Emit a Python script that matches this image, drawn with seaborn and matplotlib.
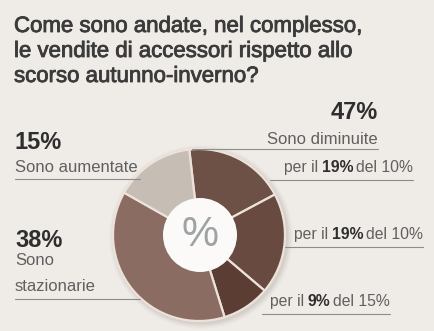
import matplotlib
matplotlib.use("Agg")
import matplotlib.pyplot as plt
import matplotlib.patheffects as pe
from matplotlib.patches import Circle
import seaborn as sns

# --- data -------------------------------------------------------------
title_lines = [
    "Come sono andate, nel complesso,",
    "le vendite di accessori rispetto allo",
    "scorso autunno-inverno?",
]
slice_labels = ["diminuite 19% del 10%", "diminuite 19% del 10%",
                "diminuite 9% del 15%", "stazionarie", "aumentate"]
slice_values = [19, 19, 9, 38, 15]
slice_colors = ["#6d5046", "#684a40", "#5b3d34", "#8b6c62", "#c6bdb5"]

total_down = 47
total_flat = 38
total_up = 15
detail_pct = [19, 19, 9]
detail_of = [10, 10, 15]

# --- style ------------------------------------------------------------
sns.set_theme(style="white")
plt.rcParams["font.family"] = ["Liberation Sans", "DejaVu Sans"]

BG = "#efebe6"
W, H = 434, 331
fig = plt.figure(figsize=(W / 100, H / 100), dpi=100, facecolor=BG)
ax = fig.add_axes([0, 0, 1, 1])
ax.set_facecolor(BG)

cx, cy, r = 199, H - 235, 86

# soft shadow around the ring
for k, a in zip(range(6, 0, -1), [0.015, 0.02, 0.025, 0.03, 0.035, 0.04]):
    ax.add_patch(Circle((cx + 2, cy - 2), r + k, facecolor="#5a4a40",
                        edgecolor="none", alpha=a, zorder=0))

ax.pie(slice_values, colors=slice_colors, startangle=96.5, counterclock=False,
       center=(cx, cy), radius=r,
       wedgeprops=dict(edgecolor="#ece2da", linewidth=1.6))
ax.add_patch(Circle((cx + 1, cy), 37, facecolor="#fbfaf8", edgecolor="none", zorder=5))
ax.text(cx + 1, cy, "%", ha="center", va="center", fontsize=30,
        color="#9ea3a6", zorder=6)

ax.set_xlim(0, W)
ax.set_ylim(0, H)
ax.set_aspect("equal")
ax.axis("off")

TITLE_C = "#3b3b3b"
TXT_C = "#606060"
BOLD_C = "#2e2e2e"
LINE_C = "#8c8c8c"

heavy = [pe.withStroke(linewidth=0.6, foreground=TITLE_C)]
for i, line in enumerate(title_lines):
    ax.text(14, H - (32 + 25 * i), line, fontsize=16, color=TITLE_C,
            ha="left", va="baseline", path_effects=heavy)

def hline(x0, x1, y):
    ax.plot([x0, x1], [H - y, H - y], color=LINE_C, lw=0.8, zorder=1)

# left side: up / flat
ax.text(15, H - 149, f"{total_up}%", fontsize=17, fontweight="bold",
        color=BOLD_C, ha="left", va="baseline")
ax.text(15, H - 172, "Sono aumentate", fontsize=12, color=TXT_C,
        ha="left", va="baseline")
hline(15, 140, 179)

ax.text(15, H - 247, f"{total_flat}%", fontsize=17, fontweight="bold",
        color=BOLD_C, ha="left", va="baseline")
ax.text(15, H - 265, "Sono", fontsize=12, color=TXT_C, ha="left", va="baseline")
ax.text(15, H - 291, "stazionarie", fontsize=12, color=TXT_C, ha="left", va="baseline")
hline(15, 140, 299)

# right side: down and its breakdown
ax.text(378, H - 119, f"{total_down}%", fontsize=17, fontweight="bold",
        color=BOLD_C, ha="right", va="baseline")
ax.text(378, H - 144, "Sono diminuite", fontsize=12, color=TXT_C,
        ha="right", va="baseline")
hline(192, 378, 149)

def detail(xr, yb, pct, of):
    t = ax.text(xr, H - yb, f"del {of}%", fontsize=11.3, color=TXT_C,
                ha="right", va="baseline")
    fig.canvas.draw()
    bb = t.get_window_extent()
    x = bb.x0 - 3
    t2 = ax.text(x, H - yb, f"{pct}%", fontsize=11.3, fontweight="bold",
                 color=BOLD_C, ha="right", va="baseline")
    bb2 = t2.get_window_extent()
    ax.text(bb2.x0 - 3, H - yb, "per il", fontsize=11.3, color=TXT_C,
            ha="right", va="baseline")

rows = [(413, 172, 180, 270), (423, 239, 247, 285), (390, 306, 314, 262)]
for (xr, yb, yl, xl), p, o in zip(rows, detail_pct, detail_of):
    detail(xr, yb, p, o)
    hline(xl, xr, yl)

fig.savefig("out.png", dpi=100, facecolor=BG)
